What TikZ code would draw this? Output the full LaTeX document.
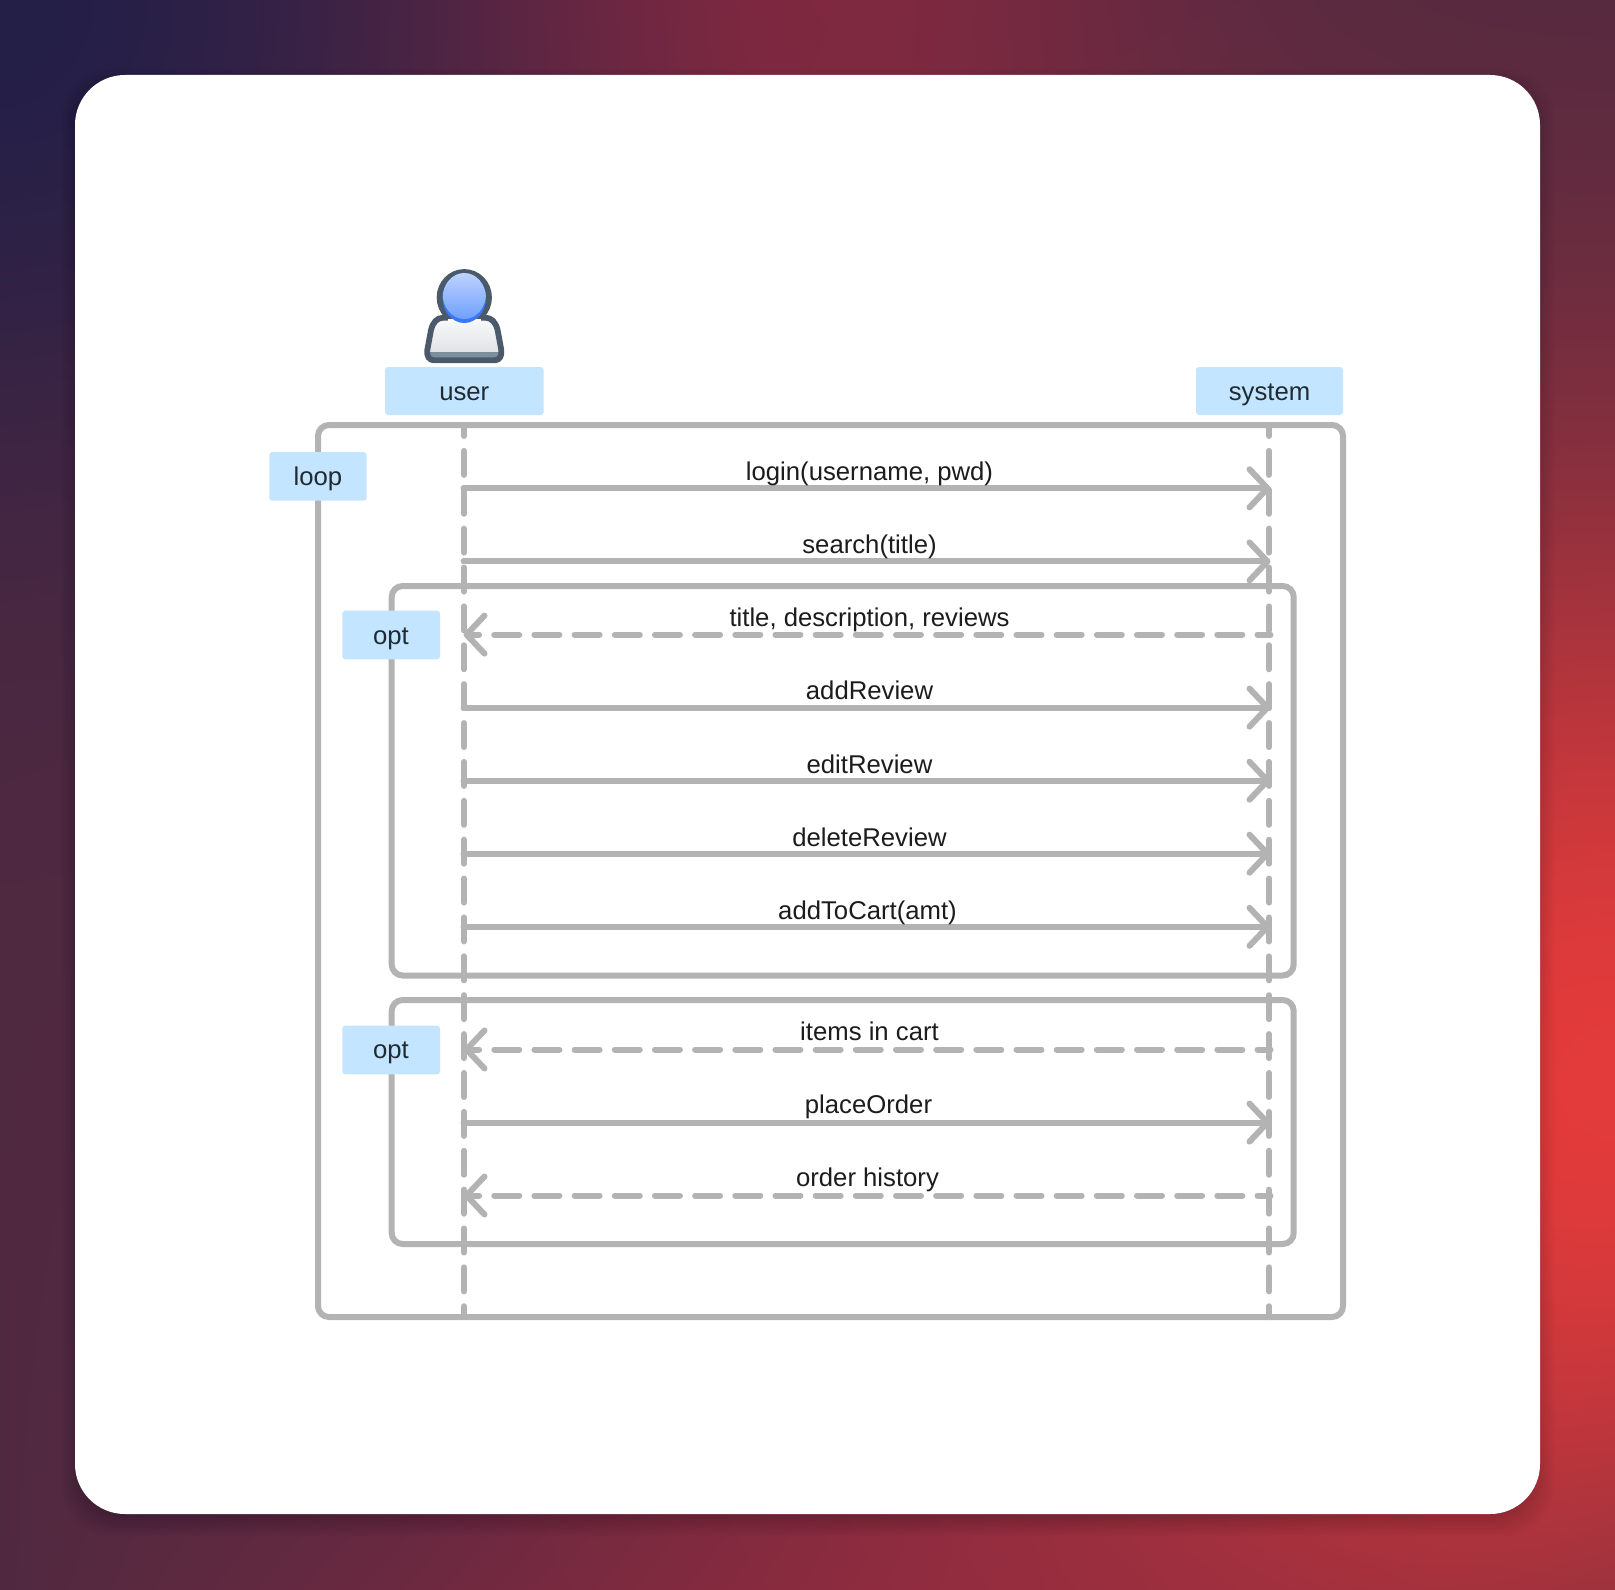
\documentclass[tikz,border=0pt]{standalone}
\usepackage{fontspec}
\setmainfont{Liberation Sans}
\usetikzlibrary{arrows.meta,calc}
\definecolor{lineg}{HTML}{B3B3B3}
\definecolor{tagbg}{HTML}{C4E5FF}
\definecolor{tagtx}{HTML}{1F2A33}
\definecolor{msgtx}{HTML}{1C1C1C}
\definecolor{dk}{HTML}{4A5A6A}
\definecolor{band}{HTML}{7D8E9C}
\definecolor{headblue}{HTML}{3A78F5}
\definecolor{headtop}{HTML}{C4D6FF}
\definecolor{headbot}{HTML}{70A0FF}
\definecolor{bodytop}{HTML}{FAFAFA}
\definecolor{bodybot}{HTML}{E0E3E6}
\pgfdeclarefunctionalshading{bgmesh}{\pgfpointorigin}{\pgfpoint{1615bp}{1590bp}}{}{
 1590 div 1 exch sub exch 1615 div exch
 1 index 1 index dup mul exch dup mul add neg 0.09 div 2.718 exch exp
 2 index 1 sub dup mul 2 index 0.68 sub dup mul add neg 0.16 div 2.718 exch exp
 3 index 0.5 sub dup mul neg 0.05 div 2.718 exch exp 3 index 0.75 mul 1 exch sub mul
 0.31 3 index -0.173 mul add 2 index 0.58 mul add 1 index 0.19 mul add
 4 index 6 exp 6 index dup 1 exch sub mul 4 mul mul 0.12 mul add
 0.16 4 index -0.04 mul add 3 index 0.07 mul add
 0.25 5 index 0.03 mul add 4 index -0.02 mul add
 8 3 roll pop pop pop pop pop
}
\tikzset{
 frame/.style={draw=lineg,line width=6bp,rounded corners=11bp},
 lifeline/.style={draw=lineg,line width=6bp,line cap=round,dash pattern=on 24bp off 14.88bp},
 tag/.style={fill=tagbg,rounded corners=3bp},
 tagtext/.style={text=tagtx,font=\fontsize{25.8}{26}\selectfont,anchor=base},
 msgline/.style={draw=lineg,line width=6bp,line cap=round},
 call/.style={msgline,-{Straight Barb[length=18bp,width=38bp,round]}},
 reply/.style={msgline,dash pattern=on 25bp off 15.17bp,dash phase=12bp,-{Straight Barb[length=18bp,width=38bp,round]}},
 msgtext/.style={text=msgtx,font=\fontsize{25.8}{26}\selectfont,anchor=base,inner sep=0pt,midway,yshift=7.7bp,xshift=2.5bp},
}
\begin{document}
\begin{tikzpicture}[x=1bp,y=-1bp]
\useasboundingbox (0,0) rectangle (1615,1590);
\node[inner sep=0pt,outer sep=0pt,anchor=north west] (bg) at (0,0) {\pgfuseshading{bgmesh}};
\foreach \s in {-8,-6,...,14}{
 \fill[black,opacity=0.016,rounded corners=50bp] ({75-\s},{83-\s}) rectangle ({1540+\s},{1522+\s});
}
\fill[white,rounded corners=50bp] (75,75) rectangle (1540,1514);
% frames
\draw[frame] (318,425) rectangle (1343,1317);
\draw[frame] (391.7,586) rectangle (1293.7,975.5);
\draw[frame] (391.7,1000) rectangle (1293.7,1244);
% lifeline heads
\path[tag] (385,367) rectangle (543.7,415);
\path[tag] (1196,367) rectangle (1343,415);
\node[tagtext] (user) at (464.3,400.5) {user};
\node[tagtext] (system) at (1269.5,400.5) {system};
\coordinate (utop) at (464,412);
\coordinate (ubot) at (464,1317);
\coordinate (stop) at (1269,412);
\coordinate (sbot) at (1269,1317);
\begin{scope}
\clip (300,425) rectangle (1400,1320);
\draw[lifeline] (utop) -- (ubot);
\draw[lifeline] (stop) -- (sbot);
\end{scope}
% messages
\foreach \n/\y in {1/488.3,2/561.4,3/634.6,4/707.6,5/780.7,6/853.7,7/926.8,8/1049.5,9/1122.6,10/1195.5}{
 \coordinate (u\n) at (463.5,\y);
 \coordinate (s\n) at (1270.5,\y);
}
\draw[call] (u1) -- node[msgtext] (m1) {login(username, pwd)} (s1);
\draw[call] (u2) -- node[msgtext] (m2) {search(title)} (s2);
\draw[reply] (s3) -- node[msgtext] (m3) {title, description, reviews} (u3);
\draw[call] (u4) -- node[msgtext] (m4) {addReview} (s4);
\draw[call] (u5) -- node[msgtext] (m5) {editReview} (s5);
\draw[call] (u6) -- node[msgtext] (m6) {deleteReview} (s6);
\draw[call] (u7) -- node[msgtext,xshift=-2bp] (m7) {addToCart(amt)} (s7);
\draw[reply] (s8) -- node[msgtext,yshift=1bp] (m8) {items in cart} (u8);
\draw[call] (u9) -- node[msgtext,yshift=1bp,xshift=-1bp] (m9) {placeOrder} (s9);
\draw[reply] (s10) -- node[msgtext,yshift=1bp,xshift=-2bp] (m10) {order history} (u10);
% fragment tags
\path[tag] (269.3,452) rectangle (366.7,500.7);
\node[tagtext] (loop) at (318,485.5) {loop};
\path[tag] (342.3,610.7) rectangle (440,659.3);
\node[tagtext] (opt1) at (391,644) {opt};
\path[tag] (342.3,1025.7) rectangle (440,1074.3);
\node[tagtext] (opt2) at (391,1058) {opt};
% actor
\def\bodypath{(434,360.3) .. controls (429,360.3) and (426.5,356) .. (427.3,350) -- (431,330) .. controls (433,322) and (437,318) .. (443,317.7) -- (485.6,317.7) .. controls (491.6,318) and (495.6,322) .. (497.6,330) -- (501.3,350) .. controls (502.1,356) and (499.6,360.3) .. (494.6,360.3) -- cycle}
\draw[dk,line width=5.8bp,fill=dk] (464.3,297.5) ellipse [x radius=24.7bp,y radius=25.5bp];
\begin{scope}
\clip \bodypath;
\shade[top color=bodytop,bottom color=bodybot] (420,316) rectangle (510,352);
\fill[band] (420,351.7) rectangle (510,362);
\end{scope}
\draw[dk,line width=5.8bp,line join=round] \bodypath;
\fill[bodytop] (448,319) rectangle (481,322);
\fill[headblue] (464.3,298) ellipse [x radius=21.7bp,y radius=25bp];
\begin{scope}
\clip (464.3,298) ellipse [x radius=21.7bp,y radius=25bp];
\shade[top color=headtop,bottom color=headbot] (464.3,294) ellipse [x radius=21.7bp,y radius=25bp];
\end{scope}
\end{tikzpicture}
\end{document}
